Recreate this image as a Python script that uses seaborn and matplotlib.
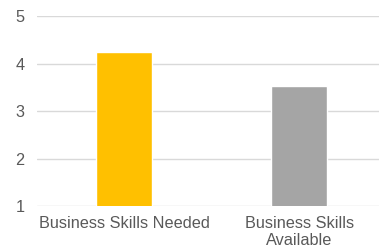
import pandas as pd
import matplotlib
matplotlib.use("Agg")
import matplotlib.pyplot as plt
import seaborn as sns

sns.set_theme(style="white")
plt.rcParams["font.family"] = ["Liberation Sans", "DejaVu Sans"]

categories = ["Business Skills Needed", "Business Skills\nAvailable"]
scores = [4.25, 3.52]
colors = ["#FFC000", "#A5A5A5"]

df = pd.DataFrame({"category": categories, "score": scores})

fig = plt.figure(figsize=(3.79, 2.49), dpi=100)
ax = fig.add_axes([0.0976, 0.1727, 0.923, 0.763])
sns.barplot(data=df, x="category", y="score", hue="category", palette=colors,
            width=0.32, legend=False, ax=ax, saturation=1)

ax.set_ylim(1, 5)
ax.set_xlim(-0.5, 1.5)
ax.set_yticks([1, 2, 3, 4, 5])
ax.yaxis.grid(True, color="#d9d9d9", linewidth=1)
ax.set_axisbelow(True)
for s in ax.spines.values():
    s.set_visible(False)
ax.set_xlabel("")
ax.set_ylabel("")
ax.tick_params(axis="both", length=0, labelsize=11.7, labelcolor="#595959")
ax.tick_params(axis="x", pad=7)
ax.tick_params(axis="y", pad=9)
for lbl in ax.get_xticklabels():
    lbl.set_linespacing(1.2)

fig.savefig("out.png", dpi=100)
